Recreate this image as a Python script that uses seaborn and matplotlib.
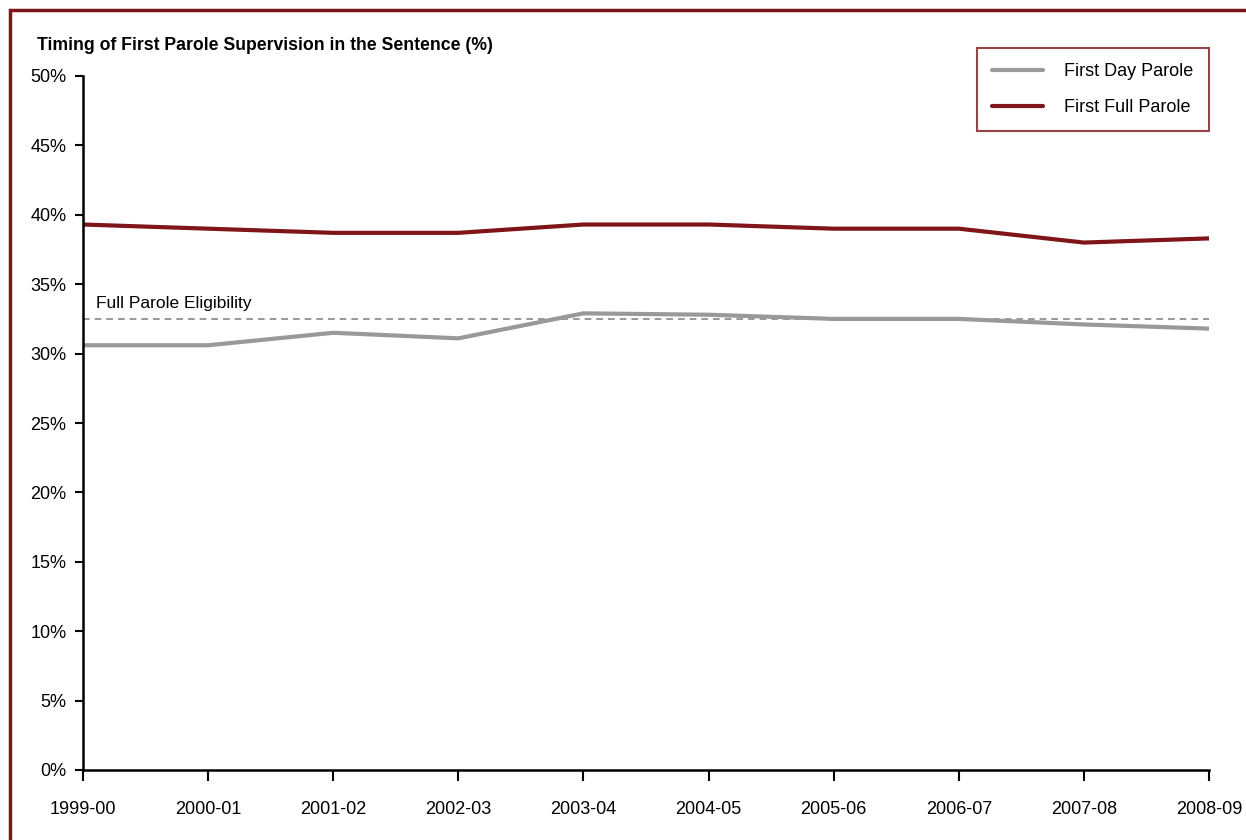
import numpy as np
import pandas as pd
import matplotlib
matplotlib.use("Agg")
import matplotlib.pyplot as plt
import seaborn as sns
from matplotlib.patches import Rectangle

years = ['1999-00', '2000-01', '2001-02', '2002-03', '2003-04',
         '2004-05', '2005-06', '2006-07', '2007-08', '2008-09']
first_day = [30.6, 30.6, 31.5, 31.1, 32.9, 32.8, 32.5, 32.5, 32.1, 31.8]
first_full = [39.3, 39.0, 38.7, 38.7, 39.3, 39.3, 39.0, 39.0, 38.0, 38.3]
eligibility = 32.5
y_ticks = [0, 5, 10, 15, 20, 25, 30, 35, 40, 45, 50]

RED = '#7F1518'
GREY = '#999999'

df = pd.DataFrame({
    'year': years * 2,
    'value': first_day + first_full,
    'series': ['First Day Parole'] * len(years) + ['First Full Parole'] * len(years),
})
df['pos'] = df['year'].map({y: i for i, y in enumerate(years)})

sns.set_style('white')
plt.rcParams['font.family'] = ['Liberation Sans', 'DejaVu Sans']
plt.rcParams['text.color'] = 'black'
plt.rcParams['xtick.color'] = 'black'
plt.rcParams['ytick.color'] = 'black'

fig = plt.figure(figsize=(12.46, 8.4), dpi=100)
ax = fig.add_axes([83 / 1246, 70 / 840, (1209 - 83) / 1246, (770 - 76) / 840])

sns.lineplot(data=df, x='pos', y='value', hue='series',
             palette={'First Day Parole': GREY, 'First Full Parole': RED},
             linewidth=3, ax=ax, legend=True)

ax.axhline(eligibility, color='#888888', linestyle=(0, (4, 3)), linewidth=1.2, zorder=1)
ax.text(0.1, eligibility + 0.6, 'Full Parole Eligibility', fontsize=12.5, va='bottom', ha='left')

ax.set_xlim(0, len(years) - 1)
ax.set_ylim(0, 50)
ax.set_xticks(range(len(years)))
ax.set_xticklabels(years)
ax.set_yticks(y_ticks)
ax.set_yticklabels([f'{v}%' for v in y_ticks])
ax.set_xlabel('')
ax.set_ylabel('')

for s in ['top', 'right']:
    ax.spines[s].set_visible(False)
for s in ['left', 'bottom']:
    ax.spines[s].set_color('black')
    ax.spines[s].set_linewidth(1.8)

ax.tick_params(axis='y', which='major', direction='out', length=6, width=1.5,
               color='black', labelsize=13, pad=6, left=True)
ax.tick_params(axis='x', which='major', direction='out', length=8, width=1.5,
               color='black', labelsize=13, pad=14, bottom=True)

leg = ax.legend(loc='upper right', bbox_to_anchor=(1.0, 1.041), fontsize=13,
                frameon=True, fancybox=False, handlelength=2.8, handletextpad=1.2,
                borderpad=0.85, labelspacing=1.05, borderaxespad=0)
leg.get_frame().set_edgecolor(RED)
leg.get_frame().set_linewidth(1.5)
for line in leg.get_lines():
    line.set_linewidth(3)
for t in leg.get_texts():
    t.set_color('black')

fig.text(37 / 1246, 1 - 45 / 840, 'Timing of First Parole Supervision in the Sentence (%)',
         fontsize=12.7, fontweight='bold', va='center', ha='left')

# outer frame (left and top edges visible)
fig.patches.append(Rectangle((10 / 1246, -0.1), 1.2, 1 - 10 / 840 + 0.1,
                             transform=fig.transFigure, fill=False,
                             edgecolor=RED, linewidth=2.5))

fig.savefig('out.png', dpi=100)
